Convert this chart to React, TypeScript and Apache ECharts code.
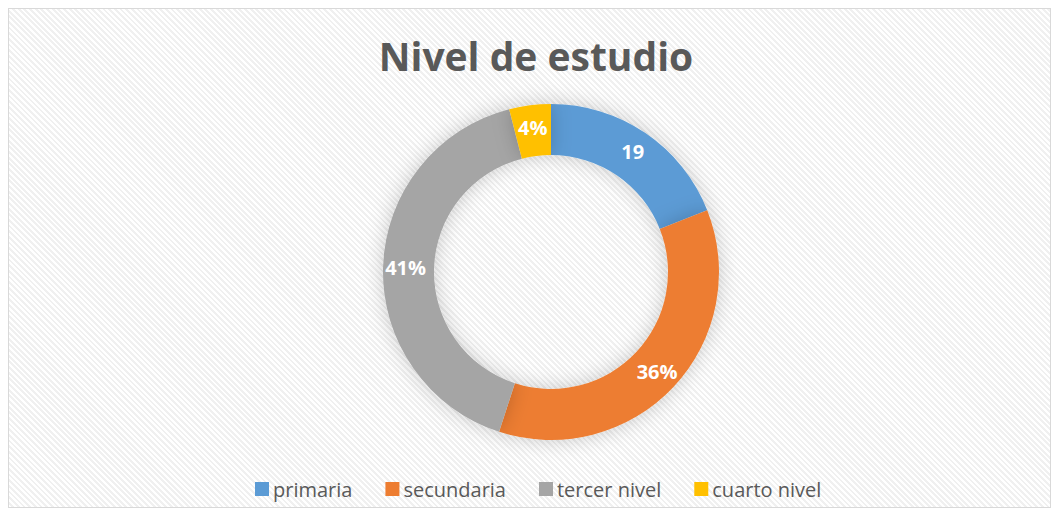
import React, { useEffect, useRef } from "react";
import * as echarts from "echarts";

const categories = ["primaria", "secundaria", "tercer nivel", "cuarto nivel"];
const values = [19, 36, 41, 4];
const labels = ["19", "36%", "41%", "4%"];
const colors = ["#5B9BD5", "#ED7D31", "#A5A5A5", "#FFC000"];

export default function App() {
  const ref = useRef<HTMLDivElement>(null);
  useEffect(() => {
    if (!ref.current) return;
    const chart = echarts.init(ref.current, undefined, { renderer: "svg" });
    const font = "'Open Sans', 'Noto Sans', sans-serif";
    chart.setOption({
      animation: false,
      title: {
        text: "Nivel de estudio",
        left: 522,
        textAlign: "center",
        top: 22,
        textStyle: { fontSize: 39, fontWeight: "bold", color: "#595959", fontFamily: font },
      },
      legend: {
        data: categories,
        top: 465,
        left: 241,
        itemWidth: 14,
        itemHeight: 14,
        itemGap: 33,
        icon: "rect",
        textStyle: { fontSize: 20, color: "#595959", fontFamily: font, padding: [0, 0, 0, -1] },
      },
      series: [
        {
          type: "pie",
          center: [542, 263],
          radius: [117, 168],
          startAngle: 90,
          clockwise: true,
          avoidLabelOverlap: false,
          itemStyle: { shadowBlur: 20, shadowColor: "rgba(0,0,0,0.2)" },
          label: {
            show: true,
            position: "inside",
            color: "#ffffff",
            fontSize: 20,
            fontWeight: "bold",
            fontFamily: font,
            formatter: (p: any) => labels[p.dataIndex],
          },
          labelLine: { show: false },
          data: categories.map((c, i) => ({ name: c, value: values[i], itemStyle: { color: colors[i] } })),
        },
      ],
    });
    return () => chart.dispose();
  }, []);
  return (
    <div
      style={{
        width: 1043,
        height: 500,
        border: "1px solid #d9d9d9",
        boxSizing: "border-box",
        background:
          "repeating-linear-gradient(45deg, #ffffff 0px, #ffffff 2px, #f0f0f0 2px, #f0f0f0 4px)",
      }}
    >
      <div ref={ref} style={{ width: 1041, height: 498 }} />
    </div>
  );
}
